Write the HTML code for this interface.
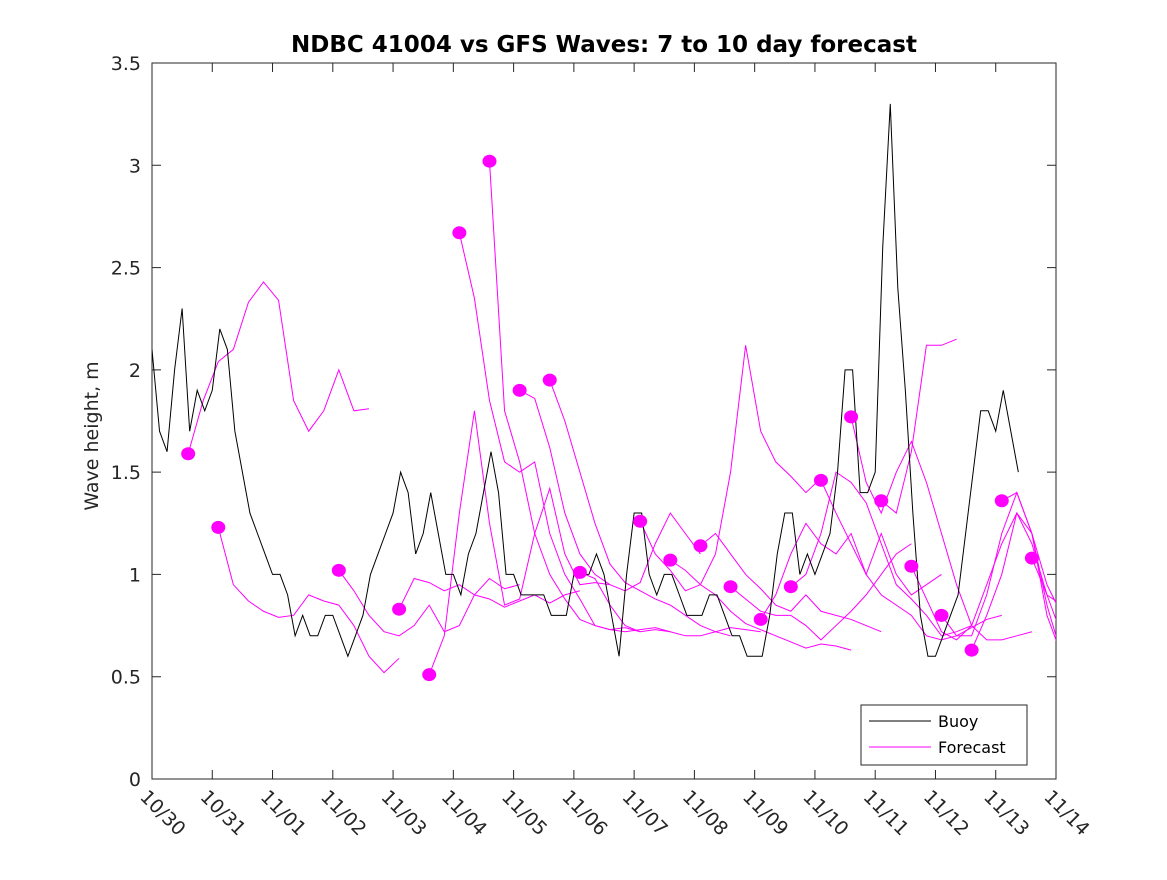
<!DOCTYPE html>
<html><head><meta charset="utf-8"><style>
body{margin:0;background:#fff;}
svg{font-family:"DejaVu Sans","Liberation Sans",sans-serif;}
</style></head><body>
<svg id="chart" width="1167" height="875" xmlns="http://www.w3.org/2000/svg"></svg>
<script>
// time in days since 10/30 00:00
const xTickLabels=["10/30","10/31","11/01","11/02","11/03","11/04","11/05","11/06","11/07","11/08","11/09","11/10","11/11","11/12","11/13","11/14"];
const yTicks=[0,0.5,1,1.5,2,2.5,3,3.5];
const yTickLabels=["0","0.5","1","1.5","2","2.5","3","3.5"];
// buoy values every 3 hours (0.125 day)
const buoyStep=0.125;
const buoyValues=[2.1,1.7,1.6,2.0,2.3,1.7,1.9,1.8,1.9,2.2,2.1,1.7,1.5,1.3,1.2,1.1,1.0,1.0,0.9,0.7,0.8,0.7,0.7,0.8,0.8,0.7,0.6,0.7,0.8,1.0,1.1,1.2,1.3,1.5,1.4,1.1,1.2,1.4,1.2,1.0,1.0,0.9,1.1,1.2,1.4,1.6,1.4,1.0,1.0,0.9,0.9,0.9,0.9,0.8,0.8,0.8,1.0,1.0,1.0,1.1,1.0,0.8,0.6,1.0,1.3,1.3,1.0,0.9,1.0,1.0,0.9,0.8,0.8,0.8,0.9,0.9,0.8,0.7,0.7,0.6,0.6,0.6,0.8,1.1,1.3,1.3,1.0,1.1,1.0,1.1,1.2,1.5,2.0,2.0,1.4,1.4,1.5,2.6,3.3,2.4,1.9,1.3,0.8,0.6,0.6,0.7,0.8,0.9,1.2,1.5,1.8,1.8,1.7,1.9,1.7,1.5];
// forecasts: start day and values every 0.25 day
const fcStep=0.25;
const fcStarts=[0.6,1.1,3.1,4.1,4.6,5.1,5.6,6.1,6.6,7.1,8.1,8.6,9.1,9.6,10.1,10.6,11.1,11.6,12.1,12.6,13.1,13.6,14.1,14.6];
const fcValues=[
[1.59,1.85,2.04,2.1,2.33,2.43,2.34,1.85,1.7,1.8,2.0,1.8,1.81],
[1.23,0.95,0.87,0.82,0.79,0.8,0.9,0.87,0.85,0.75,0.6,0.52,0.59],
[1.02,0.92,0.8,0.72,0.7,0.75,0.85,0.72,0.75,0.9,0.98,0.93,0.95],
[0.83,0.98,0.96,0.92,0.95,0.9,0.88,0.84,0.87,0.9,0.86,0.9,0.92],
[0.51,0.7,1.3,1.8,1.25,0.85,0.88,1.2,1.42,1.1,0.95,0.96,0.95],
[2.67,2.35,1.85,1.55,1.5,1.55,1.2,1.0,0.88,0.75,0.73,0.74,0.72],
[3.02,1.8,1.55,1.2,1.0,0.88,0.78,0.75,0.73,0.72,0.73,0.74,0.72],
[1.9,1.86,1.62,1.3,1.1,1.0,0.95,0.92,0.96,1.15,1.3,1.2,1.1],
[1.95,1.75,1.5,1.25,1.05,0.96,0.92,0.88,0.85,0.8,0.75,0.72,0.7],
[1.01,0.98,0.85,0.75,0.72,0.73,0.72,0.7,0.7,0.72,0.74,0.73,0.72],
[1.26,1.1,1.02,0.92,0.95,1.1,1.5,2.12,1.7,1.55,1.48,1.4,1.47],
[1.07,1.02,0.95,0.9,0.82,0.76,0.73,0.7,0.67,0.64,0.66,0.65,0.63],
[1.14,1.2,1.1,1.0,0.93,0.85,0.82,0.9,0.82,0.8,0.78,0.75,0.72],
[0.94,0.88,0.82,0.8,0.8,0.75,0.68,0.75,0.82,0.9,1.0,1.1,1.15],
[0.78,0.9,1.1,1.25,1.15,1.1,1.2,1.0,1.2,1.0,0.9,0.95,1.0],
[0.94,1.0,1.2,1.5,1.45,1.35,1.15,0.95,0.88,0.8,0.7,0.72,0.75],
[1.46,1.3,1.15,1.0,0.9,0.85,0.8,0.7,0.68,0.7,0.74,0.78,0.8],
[1.77,1.45,1.3,1.5,1.65,1.45,1.2,0.95,0.75,0.68,0.68,0.7,0.72],
[1.36,1.3,1.6,2.12,2.12,2.15],
[1.04,0.88,0.72,0.68,0.75,0.95,1.15,1.3,1.15,0.9,0.85],
[0.8,0.7,0.7,0.9,1.2,1.4,1.2,0.8,0.6],
[0.63,0.8,1.0,1.3,1.2,0.85,0.6],
[1.36,1.4,1.2,0.95,0.8],
[1.08,0.9,0.7]
];
const L=152,R=1056,T=63,B=779;
const xs=d=>L+(R-L)*d/15;
const ys=v=>B-(B-T)*v/3.5;
const NS="http://www.w3.org/2000/svg";
const svg=document.getElementById('chart');
function mk(tag,attrs,parent){const e=document.createElementNS(NS,tag);for(const k in attrs)e.setAttribute(k,attrs[k]);(parent||svg).appendChild(e);return e;}
const defs=mk('defs',{});
const cp=mk('clipPath',{id:'clip'},defs);
mk('rect',{x:L,y:T,width:R-L,height:B-T},cp);
const bg=mk('rect',{x:L,y:T,width:R-L,height:B-T,fill:'#fff',stroke:'#262626','stroke-width':1});


yTicks.forEach((v,i)=>{
  const y=ys(v);
  const t=mk('path',{d:`M${L},${y}h9M${R},${y}h-9`,stroke:'#262626'});
  
  
  const lb=mk('text',{x:L-11,y:y+7,'text-anchor':'end','font-size':19,fill:'#262626'});
  lb.textContent=yTickLabels[i];
  
  
});
xTickLabels.forEach((s,i)=>{
  const x=xs(i);
  const t=mk('path',{d:`M${x},${B}v-9M${x},${T}v9`,stroke:'#262626'});
  
  
  const lb=mk('text',{x:0,y:0,'font-size':19,fill:'#262626',transform:`translate(${x-13},${B+19}) rotate(45)`});
  lb.textContent=s;
  
  
});
const g=mk('g',{'clip-path':'url(#clip)'});
fcValues.forEach((vals,i)=>{
  const pts=vals.map((v,j)=>xs(fcStarts[i]+j*fcStep)+','+ys(v)).join(' ');
  const pl=mk('polyline',{points:pts,fill:'none',stroke:'#ff00ff','stroke-width':1},g);
  
  
});
const bp=buoyValues.map((v,j)=>xs(j*buoyStep)+','+ys(v)).join(' ');
const bl=mk('polyline',{points:bp,fill:'none',stroke:'#000','stroke-width':1},g);


fcValues.forEach((vals,i)=>{
  const c=mk('ellipse',{cx:xs(fcStarts[i]),cy:ys(vals[0]),rx:7,ry:6.5,fill:'#ff00ff'},g);
  
  
});
const title=mk('text',{x:604,y:52,'text-anchor':'middle','font-size':23,'font-weight':'bold',fill:'#000'});
title.textContent='NDBC 41004 vs GFS Waves: 7 to 10 day forecast';


const yl=mk('text',{x:0,y:0,'text-anchor':'middle','font-size':19,fill:'#262626',transform:`translate(98,436) rotate(-90)`});
yl.textContent='Wave height, m';


const lg=mk('g',{});


mk('rect',{x:861,y:705,width:166,height:60,fill:'#fff',stroke:'#262626'},lg);
const e1=mk('path',{d:'M869,721h62',stroke:'#000'},lg);


const t1=mk('text',{x:938,y:727,'font-size':16,fill:'#000'},lg);t1.textContent='Buoy';


const e2=mk('path',{d:'M869,747h62',stroke:'#ff00ff'},lg);


const t2=mk('text',{x:938,y:753,'font-size':16,fill:'#000'},lg);t2.textContent='Forecast';


</script>
</body></html>
